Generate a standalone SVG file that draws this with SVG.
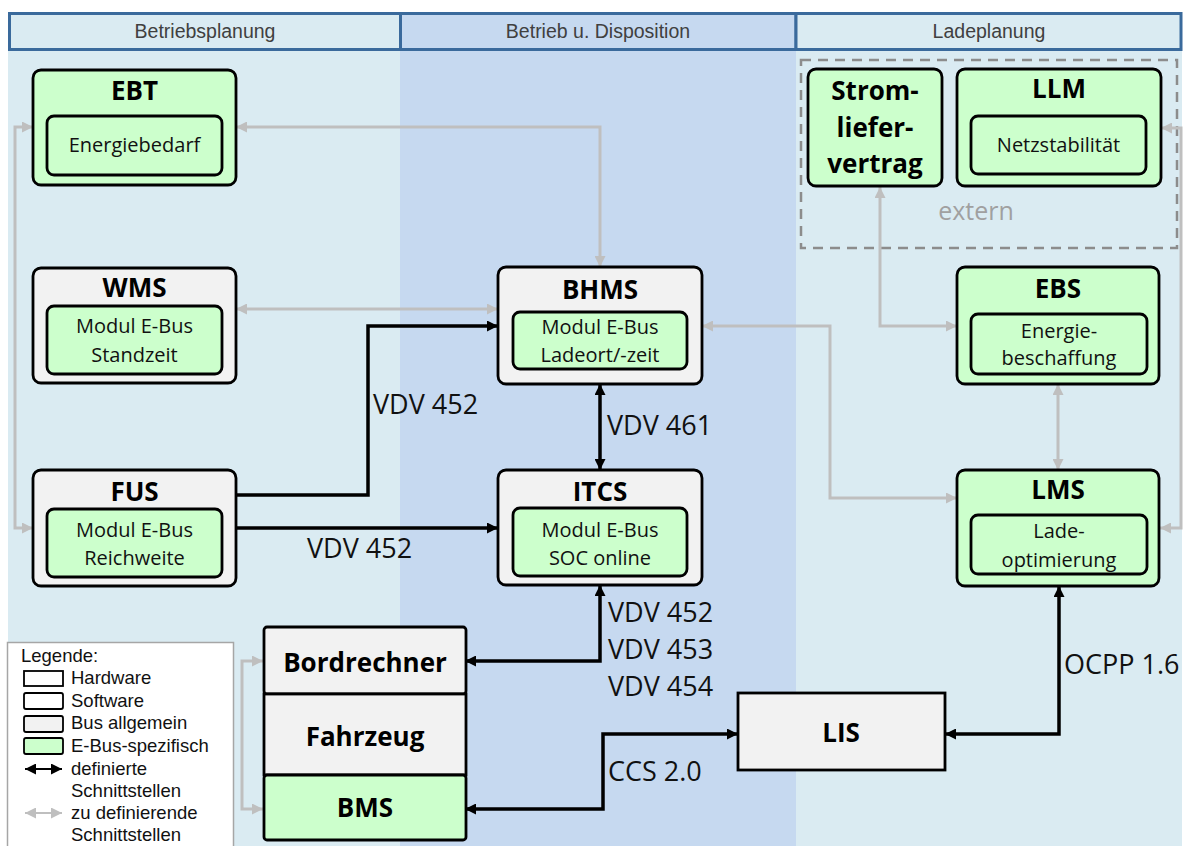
<svg xmlns="http://www.w3.org/2000/svg" width="1186" height="846" viewBox="0 0 1186 846">
<defs>
<style>
.hdr{fill:#DAEBF2;stroke:#3A6A9C;stroke-width:3}
.hdrm{fill:#C6D9F0;stroke:#3A6A9C;stroke-width:3}
.ht{font-family:"Liberation Sans",Arial,sans-serif;font-size:19.5px;fill:#404040;text-anchor:middle}
.g{fill:#CCFFCC;stroke:#000;stroke-width:2.8}
.w{fill:#F2F2F2;stroke:#000;stroke-width:2.8}
.tt{font-family:"Open Sans",sans-serif;font-weight:bold;font-size:26px;fill:#000;text-anchor:middle}
.it{font-family:"Open Sans",sans-serif;font-size:20px;fill:#111;text-anchor:middle}
.lb{font-family:"Open Sans",sans-serif;font-size:27px;fill:#111}
.lg{font-family:"Liberation Sans",Arial,sans-serif;font-size:18.5px;fill:#111}
.cb{fill:none;stroke:#000;stroke-width:3.5}
.cg{fill:none;stroke:#BFBFBF;stroke-width:3}
</style>
<marker id="ab" viewBox="0 0 10 10" refX="10" refY="5" markerWidth="12" markerHeight="11" markerUnits="userSpaceOnUse" orient="auto-start-reverse"><path d="M0,0 L10,5 L0,10 z" fill="#000"/></marker>
<marker id="ag" viewBox="0 0 10 10" refX="10" refY="5" markerWidth="12" markerHeight="11" markerUnits="userSpaceOnUse" orient="auto-start-reverse"><path d="M0,0 L10,5 L0,10 z" fill="#BFBFBF"/></marker>
</defs>
<rect width="1186" height="846" fill="#FFFFFF"/>
<g id="columns">
<rect x="8" y="50" width="392" height="796" fill="#DAEBF2"/>
<rect x="400" y="50" width="396" height="796" fill="#C6D9F0"/>
<rect x="796" y="50" width="386" height="796" fill="#DAEBF2"/>
<rect class="hdr" x="9.5" y="13.5" width="391" height="36"/>
<rect class="hdrm" x="400.5" y="13.5" width="395.5" height="36"/>
<rect class="hdr" x="796" y="13.5" width="385" height="36"/>
<text class="ht" x="205" y="38">Betriebsplanung</text>
<text class="ht" x="598" y="38">Betrieb u. Disposition</text>
<text class="ht" x="989" y="38">Ladeplanung</text>
</g>
<g id="extern">
<rect x="801" y="60" width="376" height="188" fill="none" stroke="#8C8C8C" stroke-width="2.5" stroke-dasharray="10,7"/>
<text x="976" y="220" font-family="Open Sans, sans-serif" font-size="25px" fill="#A0A0A0" text-anchor="middle">extern</text>
</g>
<g id="connectors">
<path class="cg" d="M33 127 H15 V528 H33" marker-start="url(#ag)" marker-end="url(#ag)"/>
<path class="cg" d="M1161 128 H1181 V528 H1160" marker-start="url(#ag)" marker-end="url(#ag)"/>
<path class="cg" d="M263 661 H242 V809 H263" marker-start="url(#ag)" marker-end="url(#ag)"/>
<path class="cg" d="M236 127 H600 V267" marker-start="url(#ag)" marker-end="url(#ag)"/>
<path class="cg" d="M236 309 H498" marker-start="url(#ag)" marker-end="url(#ag)"/>
<path class="cg" d="M702 326 H830 V498 H957" marker-start="url(#ag)" marker-end="url(#ag)"/>
<path class="cg" d="M880 187 V326 H957" marker-start="url(#ag)" marker-end="url(#ag)"/>
<path class="cg" d="M1058 384 V470" marker-start="url(#ag)" marker-end="url(#ag)"/>
<path class="cb" d="M236 495 H368 V326 H498" marker-end="url(#ab)"/>
<path class="cb" d="M236 528 H498" marker-end="url(#ab)"/>
<path class="cb" d="M600 384 V470" marker-start="url(#ab)" marker-end="url(#ab)"/>
<path class="cb" d="M600 585 V661 H465" marker-start="url(#ab)" marker-end="url(#ab)"/>
<path class="cb" d="M465 809 H603 V734 H738" marker-start="url(#ab)" marker-end="url(#ab)"/>
<path class="cb" d="M945 734 H1059 V586" marker-start="url(#ab)" marker-end="url(#ab)"/>
<text class="lb" x="373" y="414">VDV 452</text>
<text class="lb" x="307" y="558">VDV 452</text>
<text class="lb" x="607" y="435">VDV 461</text>
<text class="lb" x="608" y="622">VDV 452</text>
<text class="lb" x="608" y="659">VDV 453</text>
<text class="lb" x="608" y="696">VDV 454</text>
<text class="lb" x="608" y="781">CCS 2.0</text>
<text class="lb" x="1064" y="674">OCPP 1.6</text>
</g>
<g id="EBT">
<rect class="g" x="33" y="70" width="203" height="115" rx="8"/>
<text class="tt" x="134.5" y="100">EBT</text>
<rect class="g" x="47" y="116" width="175" height="59" rx="7"/>
<text class="it" x="134.5" y="152">Energiebedarf</text>
</g>
<g id="WMS">
<rect class="w" x="33" y="268" width="203" height="115" rx="8"/>
<text class="tt" x="134.5" y="297">WMS</text>
<rect class="g" x="47" y="306" width="175" height="68" rx="7"/>
<text class="it" x="134.5" y="333">Modul E-Bus</text>
<text class="it" x="134.5" y="362">Standzeit</text>
</g>
<g id="FUS">
<rect class="w" x="33" y="470" width="203" height="116" rx="8"/>
<text class="tt" x="134.5" y="501">FUS</text>
<rect class="g" x="47" y="509" width="175" height="68" rx="7"/>
<text class="it" x="134.5" y="537">Modul E-Bus</text>
<text class="it" x="134.5" y="565">Reichweite</text>
</g>
<g id="BHMS">
<rect class="w" x="498" y="267" width="204" height="117" rx="8"/>
<text class="tt" x="600" y="299">BHMS</text>
<rect class="g" x="513" y="312" width="174" height="57" rx="7"/>
<text class="it" x="600" y="334">Modul E-Bus</text>
<text class="it" x="600" y="362">Ladeort/-zeit</text>
</g>
<g id="ITCS">
<rect class="w" x="498" y="470" width="204" height="115" rx="8"/>
<text class="tt" x="600" y="501">ITCS</text>
<rect class="g" x="513" y="508" width="174" height="68" rx="7"/>
<text class="it" x="600" y="537">Modul E-Bus</text>
<text class="it" x="600" y="565">SOC online</text>
</g>
<g id="Stromliefervertrag">
<rect class="g" x="808" y="69" width="134" height="117" rx="8"/>
<text class="tt" x="875" y="100">Strom-</text>
<text class="tt" x="875" y="137">liefer-</text>
<text class="tt" x="875" y="173">vertrag</text>
</g>
<g id="LLM">
<rect class="g" x="957" y="69" width="204" height="117" rx="8"/>
<text class="tt" x="1059" y="98">LLM</text>
<rect class="g" x="971" y="116" width="175" height="58" rx="7"/>
<text class="it" x="1058.5" y="152">Netzstabilität</text>
</g>
<g id="EBS">
<rect class="g" x="957" y="267" width="202" height="117" rx="8"/>
<text class="tt" x="1058" y="298">EBS</text>
<rect class="g" x="971" y="314" width="176" height="60" rx="7"/>
<text class="it" x="1059" y="338">Energie-</text>
<text class="it" x="1059" y="365">beschaffung</text>
</g>
<g id="LMS">
<rect class="g" x="957" y="470" width="202" height="116" rx="8"/>
<text class="tt" x="1058" y="499">LMS</text>
<rect class="g" x="971" y="515" width="176" height="59" rx="7"/>
<text class="it" x="1059" y="538">Lade-</text>
<text class="it" x="1059" y="567">optimierung</text>
</g>
<g id="Fahrzeug">
<rect class="w" x="264" y="627" width="202" height="67" rx="3"/>
<text class="tt" x="365" y="672">Bordrechner</text>
<rect class="w" x="264" y="694" width="202" height="81"/>
<text class="tt" x="365" y="746">Fahrzeug</text>
<rect class="g" x="264" y="775" width="202" height="65" rx="3"/>
<text class="tt" x="365" y="817">BMS</text>
</g>
<g id="LIS">
<rect class="w" x="738" y="693" width="207" height="77"/>
<text class="tt" x="841" y="742">LIS</text>
</g>
<g id="legend">
<rect x="7.5" y="642.5" width="226" height="210" fill="#FFFFFF" stroke="#A6A6A6" stroke-width="1.5"/>
<text class="lg" x="21" y="662">Legende:</text>
<rect x="24" y="671" width="39" height="15" fill="#FFFFFF" stroke="#000" stroke-width="1.8"/>
<text class="lg" x="71" y="684">Hardware</text>
<rect x="24" y="693" width="39" height="16" rx="2" fill="#FFFFFF" stroke="#000" stroke-width="1.8"/>
<text class="lg" x="71" y="707">Software</text>
<rect x="24" y="716" width="39" height="16" rx="2" fill="#F2F2F2" stroke="#000" stroke-width="1.8"/>
<text class="lg" x="71" y="729">Bus allgemein</text>
<rect x="24" y="738" width="39" height="16" rx="2" fill="#CCFFCC" stroke="#000" stroke-width="1.8"/>
<text class="lg" x="71" y="752">E-Bus-spezifisch</text>
<path d="M25 769 H62" stroke="#000" stroke-width="2" marker-start="url(#ab)" marker-end="url(#ab)"/>
<text class="lg" x="71" y="775">definierte</text>
<text class="lg" x="71" y="797">Schnittstellen</text>
<path d="M25 813 H62" stroke="#BFBFBF" stroke-width="2" marker-start="url(#ag)" marker-end="url(#ag)"/>
<text class="lg" x="71" y="819">zu definierende</text>
<text class="lg" x="71" y="841">Schnittstellen</text>
</g>
</svg>
